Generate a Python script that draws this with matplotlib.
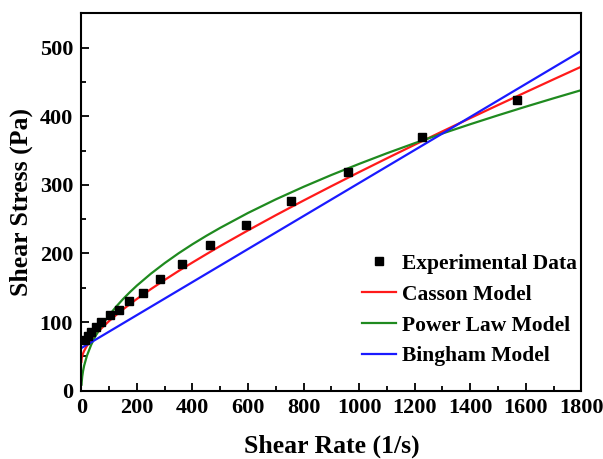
import matplotlib
matplotlib.use("Agg")
import matplotlib.pyplot as plt
from matplotlib.ticker import MultipleLocator

plt.rcParams['font.family'] = ['Liberation Serif', 'DejaVu Serif']
plt.rcParams['font.weight'] = 'bold'

# Experimental data
exp_rate = [12, 24, 36, 54, 72, 102, 136, 172, 222, 283, 363, 462, 591, 753, 961, 1228, 1569]
exp_stress = [74, 80, 86, 93, 100, 110, 117, 130, 143, 163, 184, 212, 241, 277, 319, 370, 424]

# Model curves
casson_rate = [0, 1, 3, 6, 10, 20, 35, 50, 75, 100, 125, 150, 175, 200, 250, 300, 350, 400,
               450, 500, 600, 700, 800, 900, 1000, 1100, 1200, 1300, 1400, 1500, 1600, 1700, 1800]
casson_stress = [42.0, 46.8, 50.4, 54.2, 58.0, 65.4, 74.1, 81.4, 92.0, 101.5, 110.2, 118.4,
                 126.2, 133.7, 147.9, 161.4, 174.4, 186.8, 198.9, 210.8, 233.6, 255.7, 277.1,
                 298.0, 318.5, 338.6, 358.4, 377.9, 397.2, 416.2, 435.0, 453.7, 472.2]

power_rate = [0.5, 1, 3, 6, 10, 20, 35, 50, 75, 100, 125, 150, 175, 200, 250, 300, 350, 400,
              450, 500, 600, 700, 800, 900, 1000, 1100, 1200, 1300, 1400, 1500, 1600, 1700, 1800]
power_stress = [8.7, 12.2, 20.6, 28.7, 36.6, 51.0, 66.6, 79.0, 95.9, 110.0, 122.3, 133.5,
                143.7, 153.2, 170.4, 185.9, 200.2, 213.4, 225.7, 237.3, 259.0, 278.8, 297.1,
                314.3, 330.5, 346.0, 360.7, 374.8, 388.3, 401.3, 413.9, 426.1, 438.0]

bingham_rate = [0, 600, 1200, 1800]
bingham_stress = [62.0, 206.4, 350.7, 495.1]

fig = plt.figure(figsize=(6.03, 4.59), dpi=100)
ax = fig.add_axes([0.135, 0.149, 0.829, 0.822])

ax.plot(exp_rate, exp_stress, linestyle='none', marker='s', color='black',
        markersize=5.5, label='Experimental Data', zorder=5)
ax.plot(casson_rate, casson_stress, color='#ff1a1a', lw=1.6, label='Casson Model')
ax.plot(power_rate, power_stress, color='#1f8a1f', lw=1.6, label='Power Law Model')
ax.plot(bingham_rate, bingham_stress, color='#1a1aff', lw=1.6, label='Bingham Model')

ax.set_xlim(0, 1800)
ax.set_ylim(0, 550)
ax.xaxis.set_major_locator(MultipleLocator(200))
ax.xaxis.set_minor_locator(MultipleLocator(100))
ax.yaxis.set_major_locator(MultipleLocator(100))
ax.yaxis.set_minor_locator(MultipleLocator(50))
ax.set_yticks([0, 100, 200, 300, 400, 500])

ax.tick_params(which='both', direction='in', top=False, right=False, width=1.3)
ax.tick_params(which='major', length=6, labelsize=16)
ax.tick_params(which='minor', length=3.5)
ax.tick_params(axis='x', pad=5)
ax.tick_params(axis='y', pad=6)
for lab in ax.get_xticklabels() + ax.get_yticklabels():
    lab.set_fontweight('bold')
for sp in ax.spines.values():
    sp.set_linewidth(1.5)

ax.set_xlabel('Shear Rate (1/s)', fontsize=18.5, fontweight='bold', labelpad=12)
ax.set_ylabel('Shear Stress (Pa)', fontsize=18.5, fontweight='bold', labelpad=5)

leg = ax.legend(loc='lower right', bbox_to_anchor=(0.991, 0.064), frameon=False,
                fontsize=15.5, handlelength=1.6, handletextpad=0.25, labelspacing=0.5,
                borderaxespad=0, borderpad=0)
for t in leg.get_texts():
    t.set_fontweight('bold')

fig.savefig('out.png', dpi=100)
